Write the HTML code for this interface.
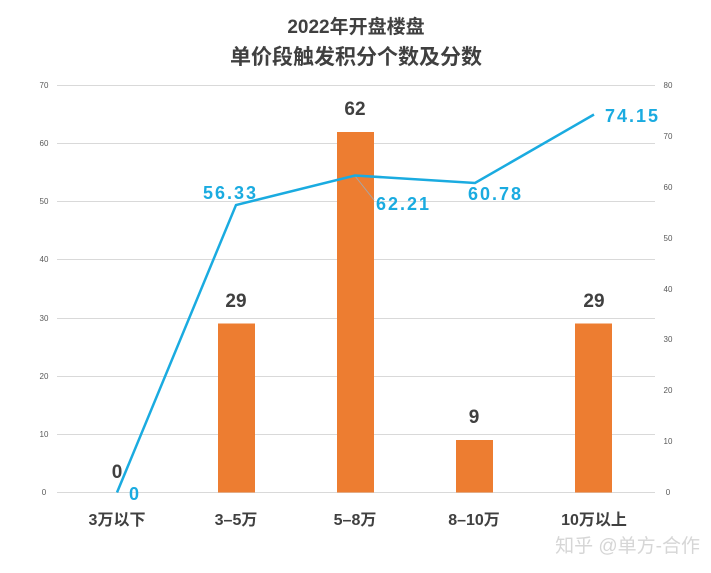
<!DOCTYPE html>
<html><head><meta charset="utf-8"><style>
body{margin:0;background:#fff;}
svg text{font-family:"Liberation Sans","Noto Sans CJK SC",sans-serif;}
</style></head><body>
<svg width="711" height="568" viewBox="0 0 711 568" xmlns="http://www.w3.org/2000/svg">
<rect width="711" height="568" fill="#fff"/>
<text x="356" y="33" text-anchor="middle" font-size="19" font-weight="bold" fill="#404040">2022年开盘楼盘</text>
<text x="356" y="64" text-anchor="middle" font-size="21" font-weight="bold" fill="#404040">单价段触发积分个数及分数</text>
<g stroke="#d9d9d9" stroke-width="1">
<line x1="57" y1="85.5" x2="655" y2="85.5"/>
<line x1="57" y1="143.5" x2="655" y2="143.5"/>
<line x1="57" y1="201.5" x2="655" y2="201.5"/>
<line x1="57" y1="259.5" x2="655" y2="259.5"/>
<line x1="57" y1="318.5" x2="655" y2="318.5"/>
<line x1="57" y1="376.5" x2="655" y2="376.5"/>
<line x1="57" y1="434.5" x2="655" y2="434.5"/>
<line x1="57" y1="492.5" x2="655" y2="492.5"/>
</g>
<g font-size="8" fill="#595959" text-anchor="middle">
<text x="44" y="88">70</text><text x="44" y="146">60</text><text x="44" y="204">50</text><text x="44" y="262">40</text><text x="44" y="321">30</text><text x="44" y="379">20</text><text x="44" y="437">10</text><text x="44" y="495">0</text>
<text x="668" y="88">80</text><text x="668" y="139">70</text><text x="668" y="190">60</text><text x="668" y="241">50</text><text x="668" y="292">40</text><text x="668" y="342">30</text><text x="668" y="393">20</text><text x="668" y="444">10</text><text x="668" y="495">0</text>
</g>
<g fill="#ed7d31">
<rect x="218" y="323.5" width="37" height="169"/>
<rect x="337" y="132" width="37" height="360.5"/>
<rect x="456" y="440" width="37" height="52.5"/>
<rect x="575" y="323.5" width="37" height="169"/>
</g>
<g font-size="19" font-weight="bold" fill="#404040" text-anchor="middle">
<text x="117" y="478">0</text>
<text x="236" y="307">29</text>
<text x="355" y="115">62</text>
<text x="474" y="423">9</text>
<text x="594" y="307">29</text>
</g>
<line x1="355" y1="176" x2="374" y2="200" stroke="#a6a6a6" stroke-width="1"/>
<polyline points="117,492.5 236,205 355,175.5 475,183 594,114.5" fill="none" stroke="#1aabe0" stroke-width="2.5"/>
<g font-size="18" font-weight="bold" fill="#1aabe0" letter-spacing="2">
<text x="129" y="500">0</text>
<text x="203" y="199">56.33</text>
<text x="376" y="210">62.21</text>
<text x="468" y="200">60.78</text>
<text x="605" y="122">74.15</text>
</g>
<g font-size="16" font-weight="bold" fill="#404040" text-anchor="middle">
<text x="117" y="525">3万以下</text>
<text x="236" y="525">3–5万</text>
<text x="355" y="525">5–8万</text>
<text x="474" y="525">8–10万</text>
<text x="594" y="525">10万以上</text>
</g>
<text x="700" y="552" text-anchor="end" font-size="19" fill="#d6d6d6">知乎 @单方-合作</text>
</svg>
</body></html>
